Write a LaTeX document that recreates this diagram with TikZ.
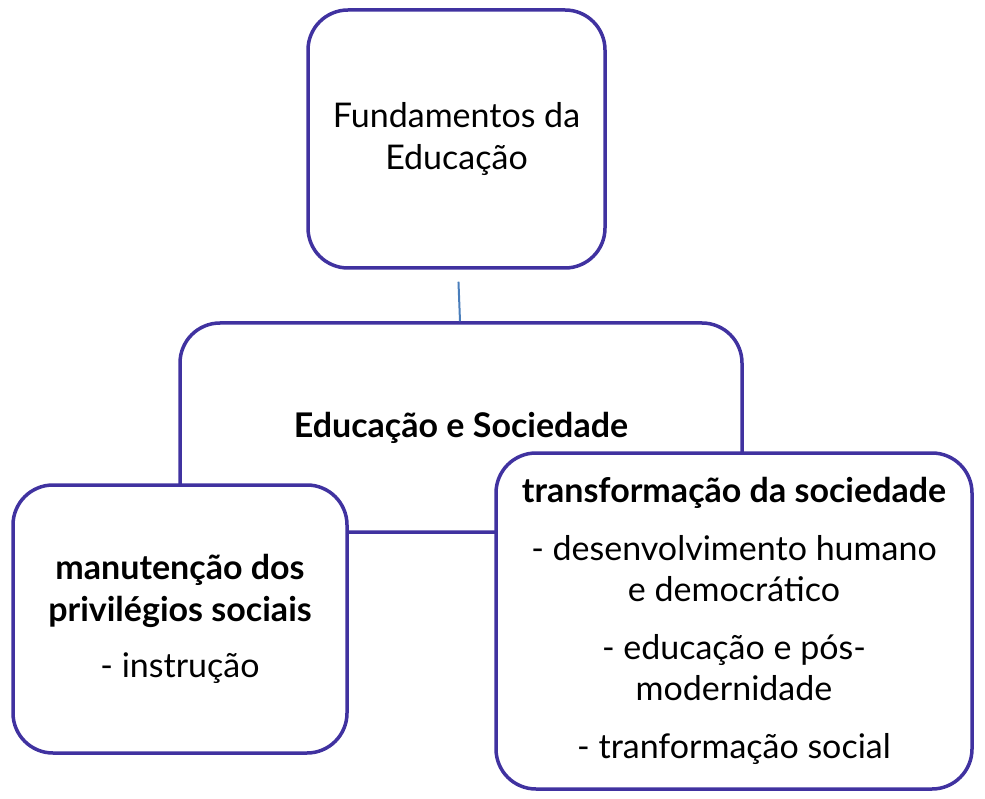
\documentclass[tikz,border=0pt]{standalone}
\usepackage{fontspec}
\setmainfont{Lato}
\definecolor{boxc}{HTML}{4032A0}
\definecolor{linkc}{HTML}{4A7EBB}
\begin{document}
\begin{tikzpicture}[x=1pt,y=-1pt,
  box/.style={draw=boxc, line width=3.5pt, rounded corners=40pt, fill=white, inner sep=0pt, align=center,
    font=\fontsize{34}{41.5}\selectfont},
  link/.style={draw=linkc, line width=2pt}]
\useasboundingbox (0,0) rectangle (985,799);
\node[box, minimum width=562pt, minimum height=209pt] (mid) at (461,427.5) {\textbf{Educação e Sociedade}};
\node[box, minimum width=297pt, minimum height=258pt] (top) at (456.5,139) {Fundamentos da\\Educação};
\draw[link, shorten <=12pt] ([xshift=1.5pt]top.south) -- ([xshift=-1pt]mid.north);
\node[box, minimum width=334pt, minimum height=268pt] (left) at (180,619)
  {\textbf{manutenção dos}\\\textbf{privilégios sociais}\\[15pt]- instrução};
\node[box, minimum width=476pt, minimum height=336pt] (right) at (734,621)
  {\textbf{transformação da sociedade}\\[16pt]- desenvolvimento humano\\e democrático\\[16pt]- educação e pós-\\modernidade\\[16pt]- tranformação social};
\end{tikzpicture}
\end{document}
